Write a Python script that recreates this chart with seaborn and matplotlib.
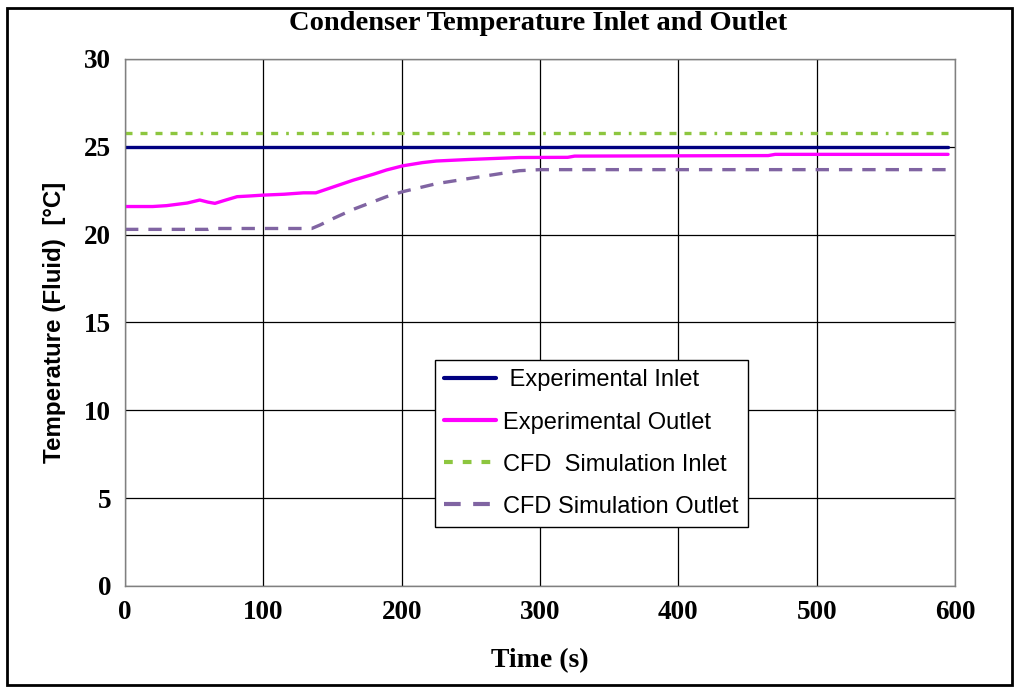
import numpy as np
import matplotlib
matplotlib.use('Agg')
import matplotlib.pyplot as plt
import pandas as pd
import seaborn as sns
from matplotlib.patches import Rectangle

# values
t_exp_in = [0, 595]
exp_in = [25.0, 25.0]

t_exp_out = [0, 20, 30, 45, 54, 60, 65, 72, 81, 90, 100, 115, 129, 138, 150, 165,
             180, 189, 201, 215, 225, 249, 285, 320, 325, 465, 470, 595]
exp_out = [21.6, 21.6, 21.65, 21.8, 21.97, 21.85, 21.78, 21.95, 22.16, 22.2, 22.25, 22.3,
           22.38, 22.38, 22.7, 23.1, 23.45, 23.68, 23.92, 24.1, 24.19, 24.28, 24.39, 24.4,
           24.47, 24.5, 24.57, 24.57]

t_cfd_in = [0, 595]
cfd_in = [25.8, 25.8]

t_cfd_out = [0, 60, 62, 135, 141, 150, 165, 189, 201, 225, 249, 285, 300, 595]
cfd_out = [20.3, 20.3, 20.35, 20.35, 20.55, 20.9, 21.44, 22.16, 22.45, 22.9, 23.2,
           23.64, 23.7, 23.7]

labels = [' Experimental Inlet', 'Experimental Outlet', 'CFD  Simulation Inlet',
          'CFD Simulation Outlet']

sns.set_style('white')
plt.rcParams['font.family'] = ['Liberation Serif', 'DejaVu Serif']
plt.rcParams['text.color'] = 'black'
plt.rcParams['axes.labelcolor'] = 'black'
plt.rcParams['xtick.color'] = 'black'
plt.rcParams['ytick.color'] = 'black'

fig = plt.figure(figsize=(10.24, 6.97), dpi=100)
ax = fig.add_axes([0.1221, 0.1593, 0.8105, 0.7561])

sns.lineplot(x=t_exp_in, y=exp_in, ax=ax, color='#000080', lw=2.4, label=labels[0])
sns.lineplot(x=t_exp_out, y=exp_out, ax=ax, color='#FF00FF', lw=2.4, label=labels[1])
sns.lineplot(x=t_cfd_in, y=cfd_in, ax=ax, color='#8DC63F', lw=2.4, label=labels[2],
             dashes=False)
sns.lineplot(x=t_cfd_out, y=cfd_out, ax=ax, color='#8064A2', lw=2.4, label=labels[3],
             dashes=False)
ax.lines[2].set_dashes([2.1, 2.4] * 5 + [0.8, 2.4])
ax.lines[3].set_dashes([4, 3])

ax.set_xlim(0, 600)
ax.set_ylim(0, 30)
ax.set_xticks(range(0, 601, 100))
ax.set_yticks(range(0, 31, 5))
ax.grid(True, color='black', lw=0.9)
for s in ax.spines.values():
    s.set_color('#808080')
    s.set_linewidth(1)
ax.tick_params(direction='out', length=5, width=1, color='#404040',
               labelsize=19.5, pad=5)
for lab in ax.get_xticklabels() + ax.get_yticklabels():
    lab.set_fontweight('bold')

ax.set_xlabel('Time (s)', fontsize=20, fontweight='bold', labelpad=17)
ax.set_ylabel('Temperature (Fluid)  [°C]', fontsize=17.4, fontweight='bold',
              family=['Liberation Sans', 'DejaVu Sans'], labelpad=13)

leg = ax.legend(loc='upper left', bbox_to_anchor=(0.3735, 0.4288), frameon=True,
                fancybox=False, edgecolor='black', framealpha=1, borderaxespad=0,
                prop={'family': 'Liberation Sans', 'size': 17},
                handlelength=2.2, labelspacing=0.85, handletextpad=0.3,
                borderpad=0.4)
leg.get_frame().set_linewidth(1)
for h in leg.legend_handles:
    h.set_linewidth(3)

fig.text(0.525, 0.966, 'Condenser Temperature Inlet and Outlet', ha='center',
         va='center', fontsize=20.5, fontweight='bold')

fig.patches.append(Rectangle((0.0068, 0.0172), 0.9812, 0.9713, transform=fig.transFigure,
                             fill=False, edgecolor='black', lw=2, figure=fig))

fig.savefig('out.png', dpi=100)
